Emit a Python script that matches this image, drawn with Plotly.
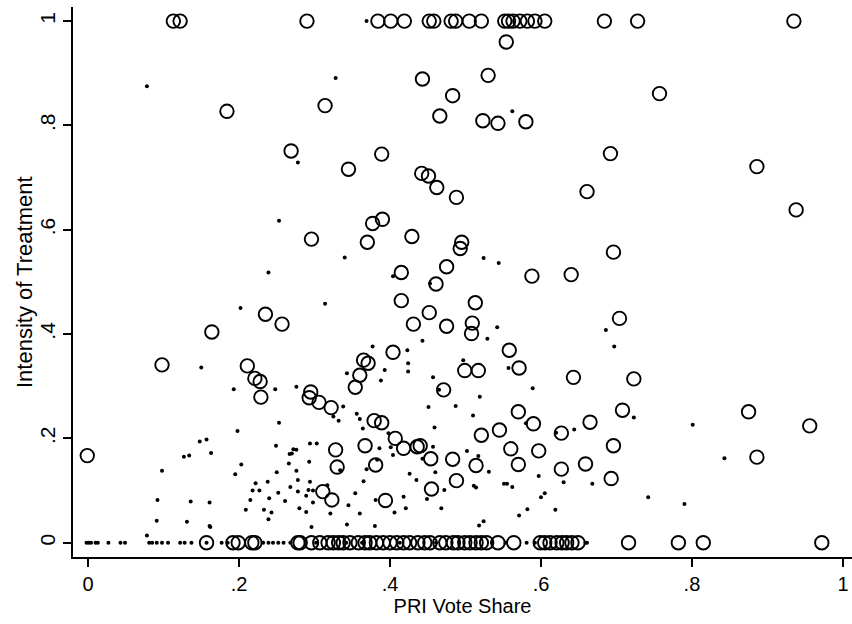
import plotly.graph_objects as go

# ---- data ----
# hollow circles: top row (y = 1)
top_circle_x = [0.113, 0.122, 0.290, 0.384, 0.401, 0.419, 0.452, 0.458, 0.481, 0.487,
                0.505, 0.521, 0.552, 0.557, 0.563, 0.572, 0.582, 0.592, 0.605, 0.684,
                0.728, 0.935]
# hollow circles: bottom row (y = 0)
zero_circle_x = [0.157, 0.192, 0.199, 0.217, 0.221, 0.278, 0.281, 0.296, 0.307, 0.318,
                 0.325, 0.332, 0.338, 0.347, 0.358, 0.367, 0.373, 0.382, 0.391, 0.400,
                 0.409, 0.418, 0.426, 0.437, 0.446, 0.453, 0.466, 0.474, 0.484, 0.490,
                 0.499, 0.506, 0.514, 0.521, 0.528, 0.543, 0.564, 0.599, 0.605, 0.612,
                 0.621, 0.628, 0.634, 0.641, 0.649, 0.716, 0.782, 0.815, 0.972]
# hollow circles: interior
mid_circle_x = [0.443, 0.314, 0.184, 0.269, 0.389, 0.345, 0.442, 0.451, 0.377, 0.390,
                0.296, 0.370, 0.429, 0.415, 0.415, 0.235, 0.554, 0.530, 0.483, 0.757,
                0.466, 0.523, 0.543, 0.580, 0.692, 0.886, 0.462, 0.488, 0.661, 0.938,
                0.495, 0.493, 0.696, 0.475, 0.461, 0.588, 0.640, 0.513, 0.452, 0.704,
                0.475, 0.509, 0.508, 0.558, 0.571, 0.499, 0.517, 0.643, 0.723, 0.471,
                0.570, 0.590, 0.708, 0.665, 0.875, 0.956, 0.545, 0.521, 0.627, 0.696,
                0.440, 0.560, 0.597, 0.454, 0.483, 0.514, 0.570, 0.627, 0.659, 0.886,
                0.488, 0.455, 0.693, -0.001, 0.098, 0.164, 0.257, 0.211, 0.221, 0.228,
                0.229, 0.295, 0.293, 0.306, 0.322, 0.354, 0.360, 0.365, 0.371, 0.404,
                0.379, 0.389, 0.407, 0.418, 0.436, 0.431, 0.367, 0.328, 0.330, 0.381,
                0.311, 0.323, 0.394]
mid_circle_y = [0.889, 0.838, 0.827, 0.751, 0.745, 0.716, 0.708, 0.703, 0.612, 0.620,
                0.582, 0.576, 0.587, 0.518, 0.464, 0.438, 0.960, 0.896, 0.857, 0.861,
                0.818, 0.809, 0.804, 0.807, 0.746, 0.721, 0.681, 0.662, 0.673, 0.638,
                0.576, 0.564, 0.557, 0.529, 0.496, 0.511, 0.514, 0.460, 0.441, 0.430,
                0.415, 0.421, 0.401, 0.369, 0.335, 0.330, 0.330, 0.317, 0.314, 0.293,
                0.251, 0.228, 0.254, 0.231, 0.251, 0.224, 0.216, 0.206, 0.210, 0.186,
                0.186, 0.180, 0.176, 0.161, 0.160, 0.148, 0.150, 0.141, 0.151, 0.164,
                0.119, 0.103, 0.123, 0.167, 0.341, 0.404, 0.419, 0.339, 0.315, 0.309,
                0.279, 0.289, 0.278, 0.269, 0.259, 0.298, 0.321, 0.350, 0.344, 0.365,
                0.234, 0.230, 0.200, 0.181, 0.184, 0.419, 0.186, 0.178, 0.145, 0.149,
                0.098, 0.082, 0.081]

# small dots: bottom row (y = 0)
zero_dot_x = [-0.002, 0.001, 0.004, 0.010, 0.013, 0.027, 0.043, 0.049, 0.081, 0.085,
              0.091, 0.098, 0.106, 0.122, 0.128, 0.137, 0.157, 0.177, 0.185, 0.232,
              0.239, 0.245, 0.252, 0.259, 0.268, 0.302, 0.342, 0.363, 0.413, 0.461,
              0.535, 0.553, 0.581, 0.592, 0.659, 0.661]
# small dots: elsewhere
dot_x = [0.369, 0.078, 0.328, 0.278, 0.253, 0.340, 0.239, 0.404, 0.314, 0.202,
         0.562, 0.524, 0.544, 0.453, 0.542, 0.529, 0.443, 0.686, 0.697, 0.557,
         0.497, 0.457, 0.465, 0.589, 0.519, 0.451, 0.487, 0.510, 0.580, 0.723,
         0.801, 0.620, 0.644, 0.459, 0.457, 0.502, 0.443, 0.517, 0.531, 0.460,
         0.843, 0.449, 0.472, 0.597, 0.630, 0.668, 0.511, 0.514, 0.551, 0.555,
         0.562, 0.605, 0.600, 0.742, 0.790, 0.582, 0.571, 0.619, 0.468, 0.524,
         0.518, 0.343, 0.380, 0.161, 0.296, 0.078, 0.150, 0.193, 0.248, 0.198,
         0.253, 0.276, 0.338, 0.325, 0.332, 0.343, 0.356, 0.360, 0.364, 0.377,
         0.388, 0.393, 0.424, 0.424, 0.423, 0.398, 0.401, 0.404, 0.386, 0.426,
         0.435, 0.418, 0.421, 0.406, 0.360, 0.354, 0.365, 0.369, 0.383, 0.345,
         0.321, 0.334, 0.303, 0.294, 0.293, 0.294, 0.292, 0.298, 0.289, 0.298,
         0.289, 0.280, 0.278, 0.278, 0.276, 0.276, 0.272, 0.270, 0.267, 0.266,
         0.268, 0.261, 0.252, 0.250, 0.249, 0.240, 0.238, 0.239, 0.233, 0.243,
         0.227, 0.222, 0.218, 0.215, 0.209, 0.203, 0.195, 0.163, 0.157, 0.148,
         0.134, 0.127, 0.098, 0.092, 0.091, 0.136, 0.161, 0.131, 0.162, 0.317,
         0.381]
dot_y = [1.000, 0.875, 0.891, 0.729, 0.617, 0.547, 0.518, 0.511, 0.458, 0.450,
         0.827, 0.546, 0.536, 0.497, 0.413, 0.391, 0.387, 0.408, 0.376, 0.335,
         0.350, 0.317, 0.293, 0.296, 0.280, 0.260, 0.262, 0.244, 0.229, 0.240,
         0.226, 0.211, 0.217, 0.221, 0.184, 0.176, 0.161, 0.166, 0.136, 0.135,
         0.162, 0.084, 0.101, 0.128, 0.116, 0.113, 0.109, 0.106, 0.113, 0.113,
         0.107, 0.095, 0.087, 0.087, 0.074, 0.064, 0.052, 0.063, 0.066, 0.041,
         0.033, 0.035, 0.032, 0.032, 0.030, 0.014, 0.336, 0.294, 0.294, 0.214,
         0.230, 0.299, 0.261, 0.242, 0.234, 0.325, 0.247, 0.237, 0.219, 0.376,
         0.311, 0.331, 0.344, 0.328, 0.369, 0.210, 0.183, 0.168, 0.181, 0.132,
         0.120, 0.088, 0.066, 0.058, 0.056, 0.095, 0.118, 0.141, 0.159, 0.072,
         0.056, 0.139, 0.190, 0.190, 0.155, 0.117, 0.101, 0.100, 0.090, 0.077,
         0.059, 0.066, 0.098, 0.120, 0.138, 0.178, 0.179, 0.171, 0.170, 0.152,
         0.107, 0.080, 0.096, 0.135, 0.186, 0.085, 0.117, 0.045, 0.063, 0.058,
         0.100, 0.114, 0.100, 0.082, 0.063, 0.150, 0.131, 0.172, 0.198, 0.194,
         0.167, 0.165, 0.138, 0.082, 0.042, 0.079, 0.077, 0.040, 0.030, 0.110,
         0.082]

tick_vals = [0, 0.2, 0.4, 0.6, 0.8, 1]
tick_text = ["0", ".2", ".4", ".6", ".8", "1"]
x_title = "PRI Vote Share"
y_title = "Intensity of Treatment"

# ---- build combined series ----
circle_x = top_circle_x + zero_circle_x + mid_circle_x
circle_y = [1.0] * len(top_circle_x) + [0.0] * len(zero_circle_x) + mid_circle_y
all_dot_x = zero_dot_x + dot_x
all_dot_y = [0.0] * len(zero_dot_x) + dot_y

fig = go.Figure()
fig.add_trace(go.Scatter(
    x=circle_x, y=circle_y, mode="markers", showlegend=False,
    marker=dict(symbol="circle-open", size=13.5, color="black",
                line=dict(width=1.9, color="black")),
))
fig.add_trace(go.Scatter(
    x=all_dot_x, y=all_dot_y, mode="markers", showlegend=False,
    marker=dict(symbol="circle", size=4, color="black", line=dict(width=0)),
))

font_family = "Liberation Sans, Arial, sans-serif"
L, R, T, B = 73, 0, 7, 67
W, H = 852, 624
fig.update_layout(
    width=W, height=H,
    margin=dict(l=L, r=R, t=T, b=B),
    paper_bgcolor="white", plot_bgcolor="white",
    font=dict(family=font_family, color="black", size=20),
    showlegend=False,
)
fig.update_xaxes(
    range=[-0.0199, 1.012], tickvals=tick_vals, ticktext=tick_text,
    ticks="outside", ticklen=8, tickwidth=1.5, tickcolor="black",
    showline=True, linewidth=1.8, linecolor="black",
    showgrid=False, zeroline=False,
    tickfont=dict(size=20, family=font_family, color="black"),
    title=dict(text=x_title, font=dict(size=20, family=font_family, color="black"), standoff=4),
)
fig.update_yaxes(
    range=[-0.0274, 1.027], tickvals=tick_vals, ticktext=tick_text,
    ticks="outside", ticklen=8, tickwidth=1.5, tickcolor="black",
    showline=True, linewidth=1.8, linecolor="black",
    showgrid=False, zeroline=False, tickangle=-90,
    tickfont=dict(size=21, family=font_family, color="black"),
)
# y-axis title placed as a rotated text annotation
fig.add_annotation(
    text=y_title, xref="paper", yref="paper",
    x=(24 - L) / (W - L - R), y=0.5, xanchor="center", yanchor="middle",
    textangle=-90, showarrow=False,
    font=dict(size=22, family=font_family, color="black"),
)

fig.write_html("out.html", config={"displayModeBar": False},
               post_script="document.body.style.margin='0px';")
